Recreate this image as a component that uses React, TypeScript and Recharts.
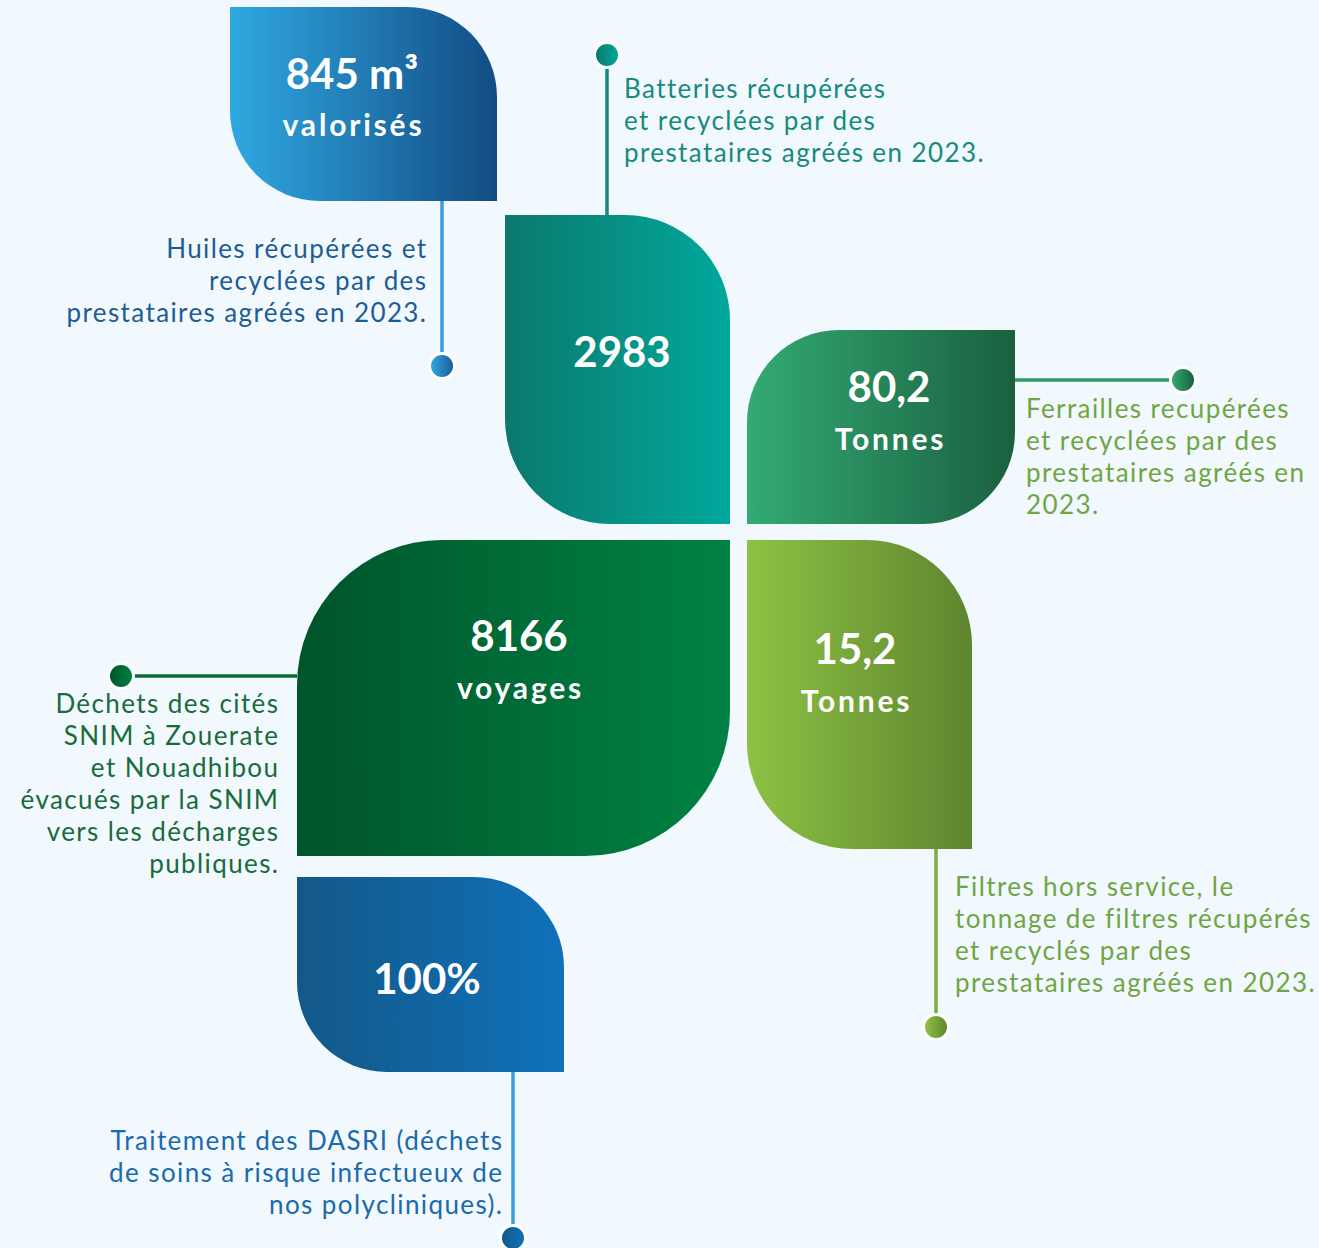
import React from "react";
import { ScatterChart, Scatter, XAxis, YAxis, ReferenceLine } from "recharts";

// --- data ---
const leafValues = ["845 m³", "2983", "80,2", "8166", "15,2", "100%"];
const leafUnits = ["valorisés", "", "Tonnes", "voyages", "Tonnes", ""];
const leafCaptions = [
  ["Huiles récupérées et", "recyclées par des", "prestataires agréés en 2023."],
  ["Batteries récupérées", "et recyclées par des", "prestataires agréés en 2023."],
  ["Ferrailles recupérées", "et recyclées par des", "prestataires agréés en", "2023."],
  ["Déchets des cités", "SNIM à Zouerate", "et Nouadhibou", "évacués par la SNIM", "vers les décharges", "publiques."],
  ["Filtres hors service, le", "tonnage de filtres récupérés", "et recyclés par des", "prestataires agréés en 2023."],
  ["Traitement des DASRI (déchets", "de soins à risque infectueux de", "nos polycliniques)."],
];

// --- layout (pixel domain, axes are 1:1 with the canvas) ---
const W = 1319;
const H = 1248;
const FONT = "Lato, 'Open Sans', sans-serif";

const leafLayout = [
  { x0: 230, y0: 7, x1: 497, y1: 201, kind: "A", r: 90, from: "#2fa8e1", to: "#134c84", vy: 89, uy: 136, vx: 352 },
  { x0: 505, y0: 215, x1: 730, y1: 524, kind: "A", r: 105, from: "#0c786c", to: "#00a99d", vy: 367, uy: 0, vx: 622 },
  { x0: 747, y0: 330, x1: 1015, y1: 524, kind: "B", r: 92, from: "#33aa74", to: "#1a603f", vy: 402, uy: 450, vx: 889 },
  { x0: 297, y0: 540, x1: 730, y1: 856, kind: "B", r: 145, from: "#00542a", to: "#008244", vy: 651, uy: 699, vx: 519 },
  { x0: 747, y0: 540, x1: 972, y1: 849, kind: "A", r: 105, from: "#8dc244", to: "#5e852f", vy: 664, uy: 712, vx: 855 },
  { x0: 297, y0: 877, x1: 564, y1: 1072, kind: "A", r: 90, from: "#135888", to: "#1071b9", vy: 994, uy: 0, vx: 427 },
];

const captionLayout = [
  { x: 426, y: 258, anchor: "end", color: "#1d5d93" },
  { x: 624, y: 98, anchor: "start", color: "#168a7e" },
  { x: 1026, y: 418, anchor: "start", color: "#6fa643" },
  { x: 278, y: 713, anchor: "end", color: "#1a6b3b" },
  { x: 955, y: 896, anchor: "start", color: "#6fa643" },
  { x: 502, y: 1150, anchor: "end", color: "#1b6aab" },
];

const connectorLayout = [
  { x1: 442, y1: 201, x2: 442, y2: 366, line: "#3a9fd9", dotFrom: "#2fa8e1", dotTo: "#1a5d96" },
  { x1: 607, y1: 215, x2: 607, y2: 55, line: "#138a7d", dotFrom: "#0c786c", dotTo: "#00a99d" },
  { x1: 1015, y1: 380, x2: 1183, y2: 380, line: "#2e9a66", dotFrom: "#33aa74", dotTo: "#1a603f" },
  { x1: 297, y1: 676, x2: 121, y2: 676, line: "#0a6b36", dotFrom: "#00542a", dotTo: "#008244" },
  { x1: 936, y1: 849, x2: 936, y2: 1027, line: "#7bae3e", dotFrom: "#8dc244", dotTo: "#5e852f" },
  { x1: 513, y1: 1072, x2: 513, y2: 1238, line: "#3c9fd9", dotFrom: "#135888", dotTo: "#1071b9" },
];

const leafData = leafLayout.map((l, i) => ({
  x: (l.x0 + l.x1) / 2,
  y: (l.y0 + l.y1) / 2,
  i,
}));
const captionData = captionLayout.map((c, i) => ({ x: c.x, y: c.y, i }));
const dotData = connectorLayout.map((c, i) => ({ x: c.x2, y: c.y2, i }));

function leafPath(x0: number, y0: number, x1: number, y1: number, kind: string, r: number) {
  if (kind === "A") {
    return `M${x0},${y0} L${x1 - r},${y0} A${r},${r} 0 0 1 ${x1},${y0 + r} L${x1},${y1} L${x0 + r},${y1} A${r},${r} 0 0 1 ${x0},${y1 - r} Z`;
  }
  return `M${x0},${y0 + r} A${r},${r} 0 0 1 ${x0 + r},${y0} L${x1},${y0} L${x1},${y1 - r} A${r},${r} 0 0 1 ${x1 - r},${y1} L${x0},${y1} Z`;
}

const LeafShape = (props: any) => {
  const { cx, cy, payload } = props;
  const l = leafLayout[payload.i];
  const w = l.x1 - l.x0;
  const h = l.y1 - l.y0;
  const x0 = cx - w / 2;
  const y0 = cy - h / 2;
  const dy = y0 - l.y0;
  const dx = x0 - l.x0;
  return (
    <g>
      <path d={leafPath(x0, y0, x0 + w, y0 + h, l.kind, l.r)} fill={`url(#leaf${payload.i})`} />
      <text x={l.vx + dx} y={l.vy + dy} textAnchor="middle" fill="#ffffff" fontFamily={FONT} fontWeight={700} fontSize={42}>
        {leafValues[payload.i]}
      </text>
      {leafUnits[payload.i] && (
        <text
          x={l.vx + dx + 1.5}
          y={l.uy + dy}
          textAnchor="middle"
          fill="#ffffff"
          fontFamily={FONT}
          fontWeight={700}
          fontSize={30}
          letterSpacing={2.8}
        >
          {leafUnits[payload.i]}
        </text>
      )}
    </g>
  );
};

const CaptionShape = (props: any) => {
  const { cx, cy, payload } = props;
  const c = captionLayout[payload.i];
  const shift = c.anchor === "end" ? 1.4 : 0;
  return (
    <text x={cx + shift} y={cy} textAnchor={c.anchor} fill={c.color} fontFamily={FONT} fontSize={26} letterSpacing={1.4}>
      {leafCaptions[payload.i].map((line, k) => (
        <tspan key={k} x={cx + shift} dy={k === 0 ? 0 : 32}>
          {line}
        </tspan>
      ))}
    </text>
  );
};

const DotShape = (props: any) => {
  const { cx, cy, payload } = props;
  return (
    <g>
      <circle cx={cx} cy={cy} r={14} fill="#ffffff" />
      <circle cx={cx} cy={cy} r={11} fill={`url(#dot${payload.i})`} />
    </g>
  );
};

export default function App() {
  return (
    <div style={{ width: W, height: H, background: "#f1f8fe" }}>
      <style>{`body{margin:0;background:#f1f8fe;}`}</style>
      <ScatterChart width={W} height={H} margin={{ top: 0, right: 0, bottom: 0, left: 0 }}>
        <defs>
          {leafLayout.map((l, i) => (
            <linearGradient key={i} id={`leaf${i}`} x1="0" y1="0" x2="1" y2="0">
              <stop offset="0%" stopColor={l.from} />
              <stop offset="100%" stopColor={l.to} />
            </linearGradient>
          ))}
          {connectorLayout.map((c, i) => (
            <linearGradient key={i} id={`dot${i}`} x1="0" y1="0" x2="1" y2="0">
              <stop offset="0%" stopColor={c.dotFrom} />
              <stop offset="100%" stopColor={c.dotTo} />
            </linearGradient>
          ))}
        </defs>
        <XAxis type="number" dataKey="x" domain={[0, W]} hide allowDataOverflow />
        <YAxis type="number" dataKey="y" domain={[0, H]} reversed hide allowDataOverflow />
        {connectorLayout.map((c, i) => (
          <ReferenceLine
            key={i}
            segment={[{ x: c.x1, y: c.y1 }, { x: c.x2, y: c.y2 }]}
            stroke={c.line}
            strokeWidth={3.5}
            ifOverflow="visible"
          />
        ))}
        <Scatter data={leafData} shape={<LeafShape />} isAnimationActive={false} />
        <Scatter data={captionData} shape={<CaptionShape />} isAnimationActive={false} />
        <Scatter data={dotData} shape={<DotShape />} isAnimationActive={false} />
      </ScatterChart>
    </div>
  );
}
